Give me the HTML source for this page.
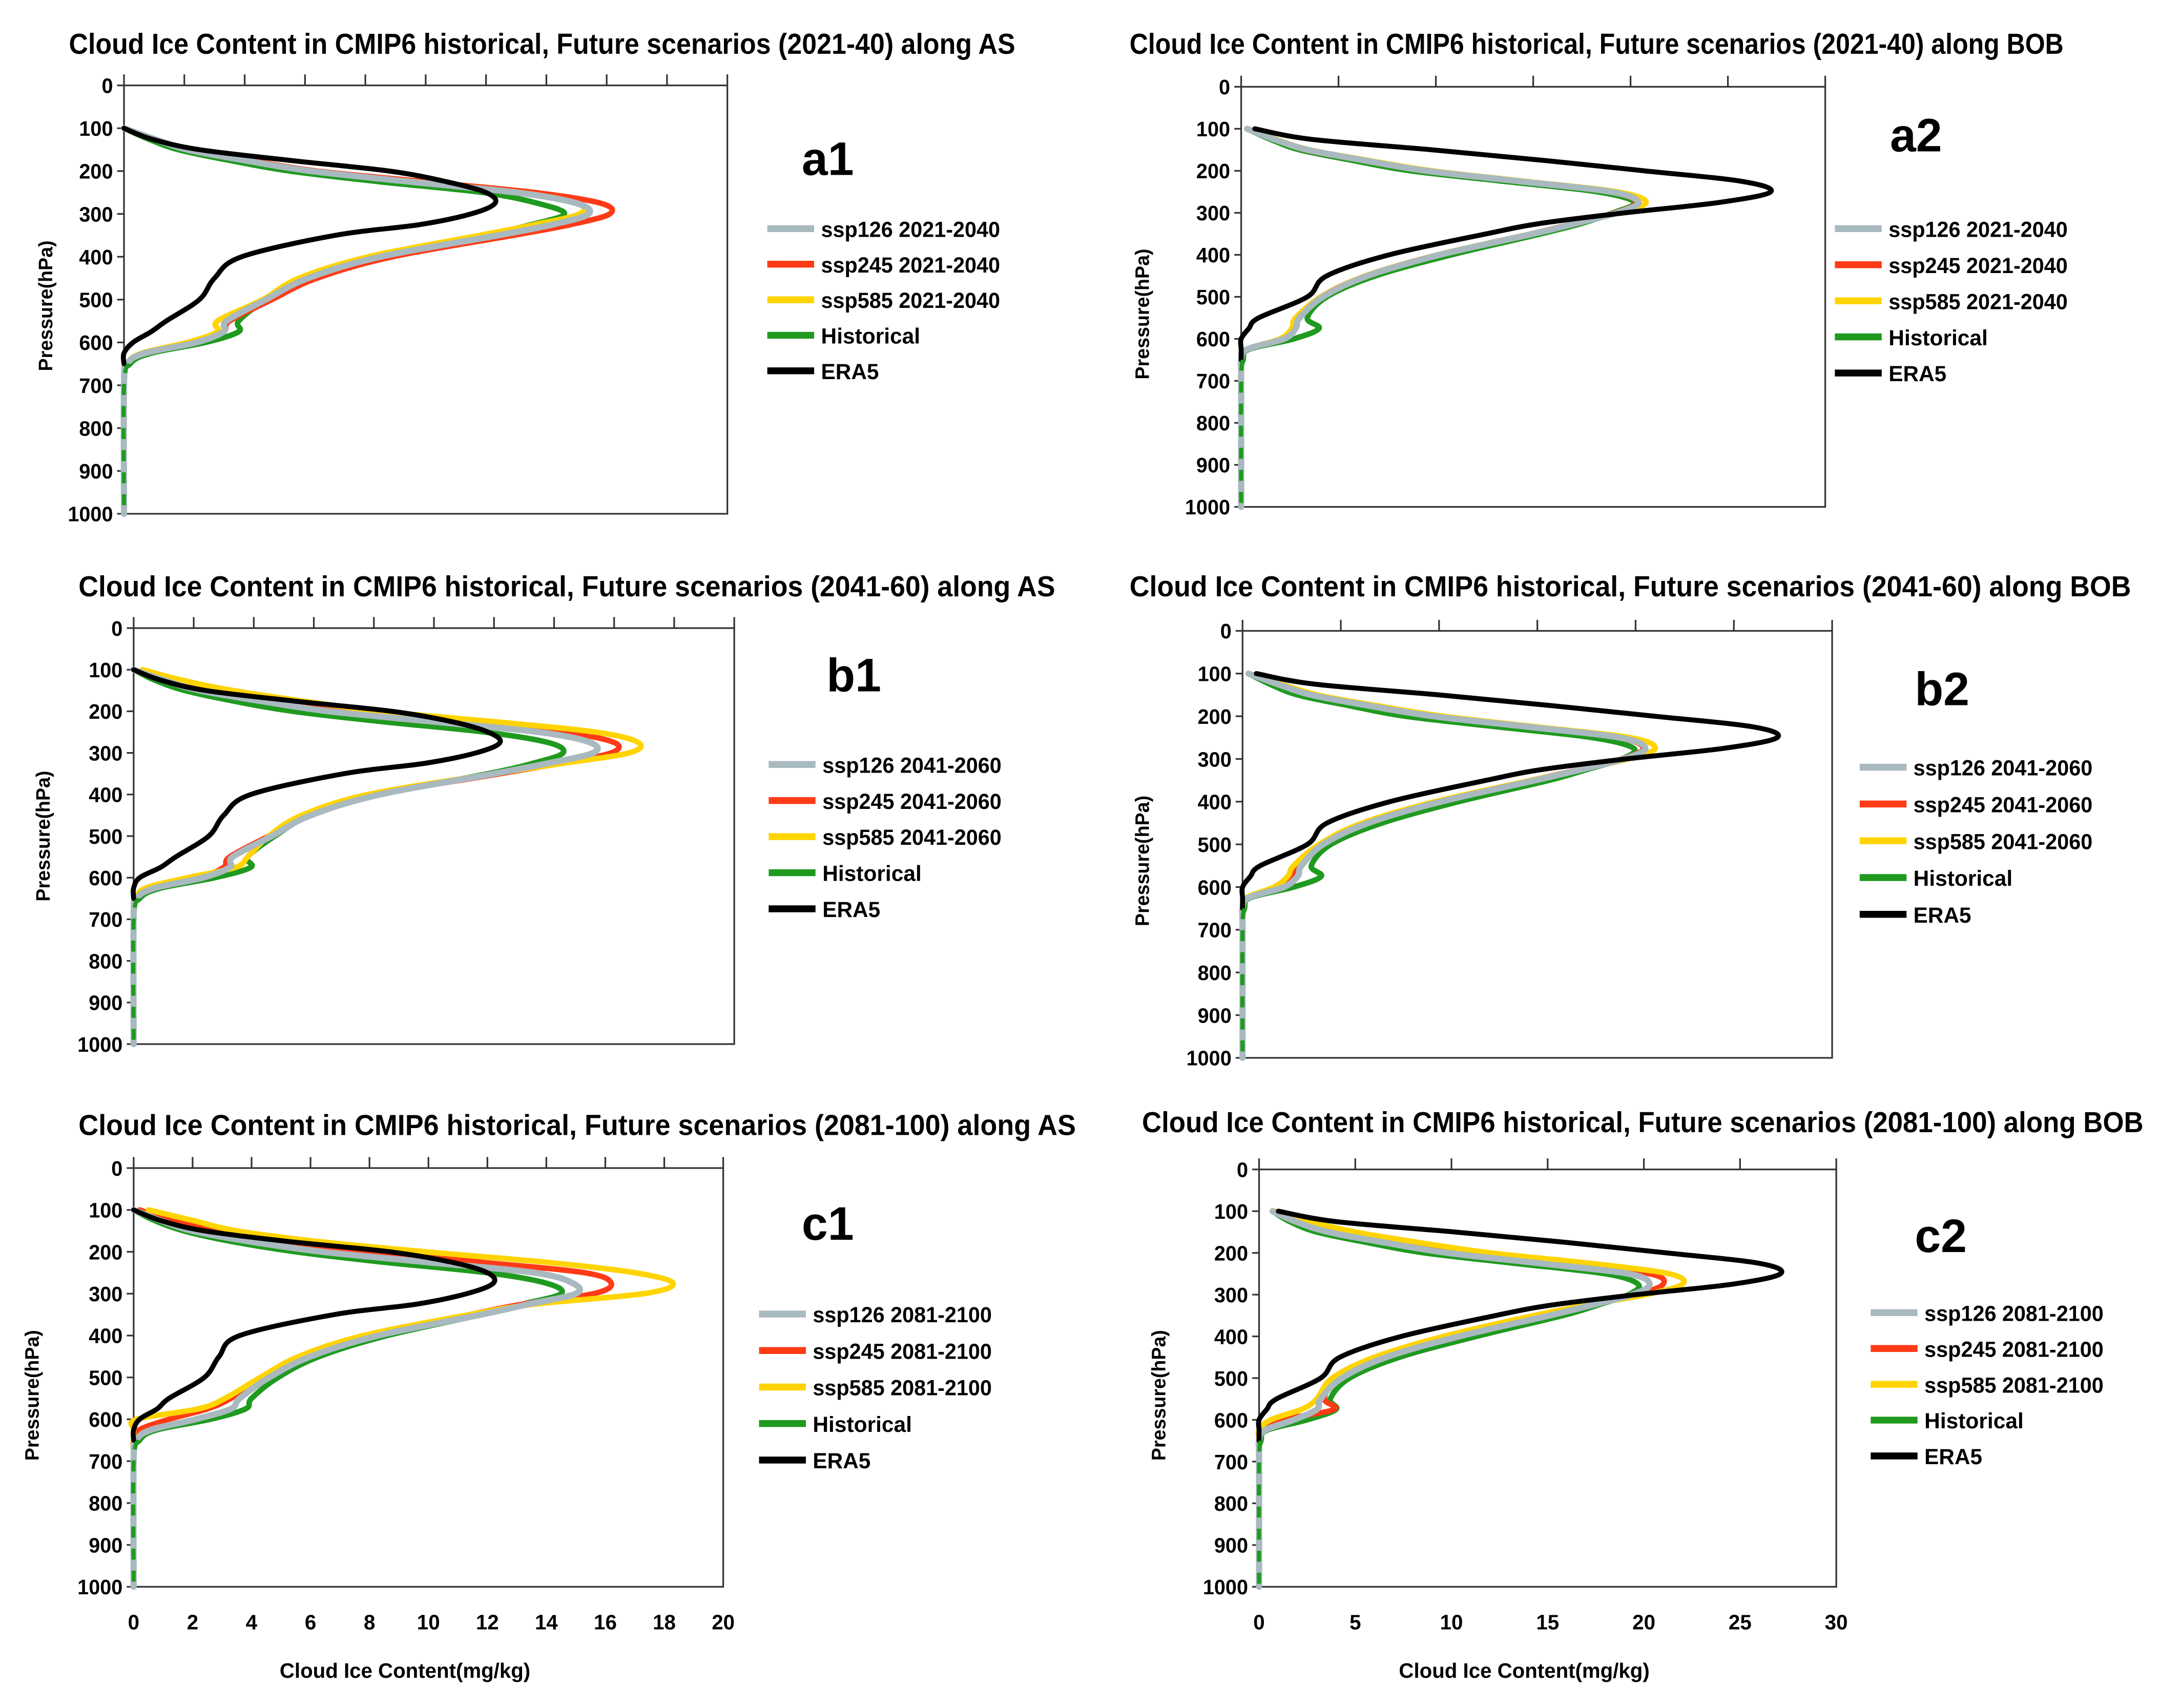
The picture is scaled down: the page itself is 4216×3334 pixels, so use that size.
<!DOCTYPE html>
<html><head><meta charset="utf-8">
<style>
html,body{margin:0;padding:0;background:#fff;}
svg{display:block;}
text{font-family:"Liberation Sans",Arial,sans-serif;font-weight:bold;fill:#000;}
</style></head>
<body>
<svg id="fig" width="4216" height="3334" viewBox="0 0 1568 1240" xmlns="http://www.w3.org/2000/svg"></svg>
<script>
// ---- data ----
const levels = [100,125,150,175,200,225,250,275,300,325,350,400,450,500,550,575,600,625,650,700,1000];
const seriesNames = ["hist","s245","s585","s126","era5"];
const yTicks = [0,100,200,300,400,500,600,700,800,900,1000];

const a1_hist = [0,0.8,1.8,3.5,5.5,8.5,11.9,13.7,14.6,13.5,11.9,8.2,5.9,4.7,3.8,3.8,2.7,0.9,0.2,0,0];
const a1_s126 = [0,1,2.1,4,6.2,9.5,13,15,15.4,14.2,12.4,8.5,6.1,4.7,3.4,3.3,2.4,0.7,0.1,0,0];
const a1_s245 = [0,1,2.2,4.2,6.4,10,13.6,15.8,16.1,14.8,12.9,8.9,6.4,4.9,3.5,3.3,2.4,0.7,0.1,0,0];
const a1_s585 = [0,1,2.1,4,6.2,9.6,13.1,15,15.1,13.6,11.8,8.1,5.8,4.6,3.1,3.1,2.1,0.6,0.1,0,0];
const a1_era5 = [0,0.9,2.5,5.5,8.8,10.7,12,12.3,11.5,9.8,7,3.9,3,2.5,1.4,0.9,0.3,0,0,0,0];

const a2_hist = [0.3,1.5,3,5.7,8.7,13.5,18.3,20.2,19.1,17.5,15.4,10.8,6.9,4.4,3.4,4,2.7,0.4,0.1,0,0];
const a2_s126 = [0.3,1.7,3.4,6.3,9.5,14.3,19,20.4,19.3,17.2,15,10.2,6.5,4.2,3,2.8,2.2,0.3,0,0,0];
const a2_s245 = [0.3,1.7,3.3,6.2,9.4,14.2,18.9,20.3,19.2,17.1,14.9,10.1,6.4,4.1,3,2.8,2.2,0.3,0,0,0];
const a2_s585 = [0.3,1.8,3.5,6.5,9.8,14.6,19.3,20.8,19.4,17.2,14.9,10.1,6.4,4.1,2.8,2.6,2.0,0.3,0,0,0];
const a2_era5 = [0.7,3.6,9.8,15.5,20.7,25.7,27.2,24.6,19.7,15.4,12.6,7.6,4.4,3.4,0.9,0.4,0,0,0,0,0];

const b1_hist = [0,0.7,1.7,3.3,5.3,8.3,11.7,13.8,14.3,13.3,11.8,8.2,5.9,4.7,3.8,3.9,2.7,0.9,0.2,0,0];
const b1_s126 = [0,1,2.2,4.2,6.5,10,13.5,15.2,15.3,13.8,12,8.2,5.9,4.6,3.3,3.2,2.3,0.7,0.1,0,0];
const b1_s245 = [0,1.1,2.4,4.5,7,10.8,14.3,16,15.9,14.2,12.2,8.2,5.9,4.5,3.2,3,2.2,0.6,0.1,0,0];
const b1_s585 = [0.3,1.6,3.3,5.6,8.2,12,15.4,16.8,16.5,14.3,12,7.8,5.6,4.5,3.8,3.4,1.8,0.4,0.1,0,0];
const b1_era5 = [0,0.9,2.4,5.3,8.6,10.6,11.8,12.2,11.4,9.7,7,3.9,3,2.5,1.4,0.9,0.2,0,0,0,0];

const b2_hist = [0.3,1.4,2.8,5.4,8.3,13,17.8,19.9,19.3,17.5,15.6,11,7.1,4.5,3.5,4,2.6,0.4,0.1,0,0];
const b2_s126 = [0.3,1.8,3.5,6.4,9.7,14.6,19.2,20.5,19.4,17.2,14.9,10.1,6.4,4.1,3,2.8,2.1,0.3,0,0,0];
const b2_s245 = [0.3,1.8,3.5,6.4,9.7,14.5,19.1,20.4,19.3,17.1,14.7,10,6.2,4,2.8,2.5,1.8,0.3,0,0,0];
const b2_s585 = [0.3,2,3.8,6.8,10.2,15,19.7,21,19.6,17.2,14.7,9.8,6.1,3.9,2.6,2.3,1.6,0.2,0,0,0];
const b2_era5 = [0.7,3.7,10,15.7,21,26,27.2,24.5,19.5,15.2,12.4,7.5,4.3,3.3,0.9,0.4,0,0,0,0,0];

const c1_hist = [0,0.7,1.7,3.3,5.5,8.5,12,14,14.5,13.2,11.8,8.6,6.3,4.9,4,3.8,2.6,0.8,0.2,0,0];
const c1_s126 = [0,0.9,2,3.9,6.4,10,13.6,14.9,15,13.4,11.8,8.3,6,4.6,3.6,3.3,2.1,0.6,0.1,0,0];
const c1_s245 = [0.2,1.3,2.9,5.2,8,11.8,15.3,16.2,15.6,13.2,11.4,7.9,5.7,4.4,3.3,2.5,1.2,0.2,0,0,0];
const c1_s585 = [0.5,2,3.5,6.2,9.9,14,17,18.3,17.3,13.6,11.4,7.8,5.6,4.3,3.1,2.2,0.1,0,0,0,0];
const c1_era5 = [0,0.9,2.4,5.2,8.7,10.8,12,12.2,11.3,9.6,6.8,3.6,2.9,2.4,1.2,0.8,0.2,0,0,0,0];

const c2_hist = [0.7,1.6,3,5.6,8.6,13.3,18,19.7,19.2,17.6,15.8,11.3,7.3,4.7,3.7,4,2.5,0.4,0.1,0,0];
const c2_s126 = [0.7,1.9,3.6,6.5,9.8,14.6,19.2,20.3,19.4,17.3,15.1,10.4,6.6,4.3,3.2,3,1.8,0.3,0,0,0];
const c2_s245 = [0.8,2.4,4.5,7.6,11.1,16,20.3,21,19.6,17,14.6,9.9,6.2,4,3.4,3.9,1.2,0.2,0,0,0];
const c2_s585 = [0.8,2.7,5,8.3,12,17.2,21.3,22,20.1,17,14.3,9.6,6,3.8,3,2.2,0.6,0,0,0,0];
const c2_era5 = [1,4,10.2,16,21.2,26,27.1,24.6,19.6,15.2,12.3,7.4,4.2,3.2,0.9,0.4,0,0,0,0,0];

const xTicksAS = [0,2,4,6,8,10,12,14,16,18,20];
const xTicksBOB = [0,5,10,15,20,25,30];

// ---- layout ----
const NS="http://www.w3.org/2000/svg";
const svg=document.getElementById('fig');
const colors={hist:"#1f9a1f",s126:"#a9b9c0",s245:"#ff3b17",s585:"#ffd400",era5:"#000"};
const widths={hist:4,s126:4.5,s245:4,s585:4,era5:3.6};
const legendLabels={s126:"ssp126",s245:"ssp245",s585:"ssp585",hist:"Historical",era5:"ERA5"};
const legendOrder=["s126","s245","s585","hist","era5"];

function el(tag,attrs,parent){const e=document.createElementNS(NS,tag);for(const k in attrs)e.setAttribute(k,attrs[k]);(parent||svg).appendChild(e);return e;}
function txt(s,attrs,parent){const t=el('text',attrs,parent);t.textContent=s;return t;}

const panels=[
 {id:"a1",data:{hist:a1_hist,s126:a1_s126,s245:a1_s245,s585:a1_s585,era5:a1_era5},xt:xTicksAS,L:90,R:528,T:62,B:373,
  title:"Cloud Ice Content in CMIP6 historical, Future scenarios (2021-40) along AS",tx:50,tw:687,ty:39,
  period:"2021-2040",lgX:557,lgY:166,lgGap:25.8,lbX:582,lbY:127,plX:33,plY:222,xlabels:false},
 {id:"a2",data:{hist:a2_hist,s126:a2_s126,s245:a2_s245,s585:a2_s585,era5:a2_era5},xt:xTicksBOB,L:901,R:1325,T:63,B:368,
  title:"Cloud Ice Content in CMIP6 historical, Future scenarios (2021-40) along BOB",tx:820,tw:678,ty:39,
  period:"2021-2040",lgX:1332,lgY:166,lgGap:26.2,lbX:1372,lbY:110,plX:829,plY:228,xlabels:false},
 {id:"b1",data:{hist:b1_hist,s126:b1_s126,s245:b1_s245,s585:b1_s585,era5:b1_era5},xt:xTicksAS,L:97,R:533,T:456,B:758,
  title:"Cloud Ice Content in CMIP6 historical, Future scenarios (2041-60) along AS",tx:57,tw:709,ty:433,
  period:"2041-2060",lgX:558,lgY:555,lgGap:26.2,lbX:600,lbY:502,plX:31,plY:607,xlabels:false},
 {id:"b2",data:{hist:b2_hist,s126:b2_s126,s245:b2_s245,s585:b2_s585,era5:b2_era5},xt:xTicksBOB,L:902,R:1330,T:458,B:768,
  title:"Cloud Ice Content in CMIP6 historical, Future scenarios (2041-60) along BOB",tx:820,tw:727,ty:433,
  period:"2041-2060",lgX:1350,lgY:557,lgGap:26.7,lbX:1390,lbY:512,plX:829,plY:625,xlabels:false},
 {id:"c1",data:{hist:c1_hist,s126:c1_s126,s245:c1_s245,s585:c1_s585,era5:c1_era5},xt:xTicksAS,L:97,R:525,T:848,B:1152,
  title:"Cloud Ice Content in CMIP6 historical, Future scenarios (2081-100) along AS",tx:57,tw:724,ty:824,
  period:"2081-2100",lgX:551,lgY:954,lgGap:26.5,lbX:582,lbY:900,plX:23,plY:1013,xlabels:true},
 {id:"c2",data:{hist:c2_hist,s126:c2_s126,s245:c2_s245,s585:c2_s585,era5:c2_era5},xt:xTicksBOB,L:914,R:1333,T:849,B:1152,
  title:"Cloud Ice Content in CMIP6 historical, Future scenarios (2081-100) along BOB",tx:829,tw:727,ty:822,
  period:"2081-2100",lgX:1358,lgY:953,lgGap:26,lbX:1390,lbY:909,plX:841,plY:1013,xlabels:true}
];

function smoothPath(pts){
  let d="M"+pts[0][0].toFixed(2)+","+pts[0][1].toFixed(2);
  for(let i=0;i<pts.length-1;i++){
    const p0=pts[i-1]||pts[i],p1=pts[i],p2=pts[i+1],p3=pts[i+2]||p2;
    const c1=[p1[0]+(p2[0]-p0[0])/6,p1[1]+(p2[1]-p0[1])/6];
    const c2=[p2[0]-(p3[0]-p1[0])/6,p2[1]-(p3[1]-p1[1])/6];
    d+=" C"+c1[0].toFixed(2)+","+c1[1].toFixed(2)+" "+c2[0].toFixed(2)+","+c2[1].toFixed(2)+" "+p2[0].toFixed(2)+","+p2[1].toFixed(2);
  }
  return d;
}

panels.forEach(p=>{
  const g=el('g',{});
  
  
  const xmax=p.xt[p.xt.length-1];
  const xs=v=>p.L+(v/xmax)*(p.R-p.L);
  const ys=v=>p.T+(v/1000)*(p.B-p.T);

  const t=txt(p.title,{x:p.tx,y:p.ty,'font-size':21,textLength:p.tw,lengthAdjust:'spacingAndGlyphs'},g);
  
  

  const box=el('rect',{x:p.L,y:p.T,width:p.R-p.L,height:p.B-p.T,fill:'none',stroke:'#333','stroke-width':1.2},g);
  
  

  p.xt.forEach(v=>{
    const tk=el('line',{x1:xs(v),x2:xs(v),y1:p.T,y2:p.T-8,stroke:'#333','stroke-width':1.2},g);
    
    
    if(p.xlabels){
      const lt=txt(String(v),{x:xs(v),y:p.B+31,'font-size':15,'text-anchor':'middle'},g);
      
      
    }
  });
  yTicks.forEach(v=>{
    const tk=el('line',{x1:p.L-5,x2:p.L,y1:ys(v),y2:ys(v),stroke:'#333','stroke-width':1.2},g);
    
    
    const lt=txt(String(v),{x:p.L-8,y:ys(v)+5.5,'font-size':15,'text-anchor':'end',textLength:String(v).length*8.2,lengthAdjust:'spacingAndGlyphs'},g);
    
    
  });
  const yl=txt("Pressure(hPa)",{x:0,y:0,'font-size':14,'text-anchor':'middle',transform:`translate(${p.plX+5},${p.plY}) rotate(-90)`},g);
  
  
  if(p.xlabels){
    const xl=txt("Cloud Ice Content(mg/kg)",{x:(p.L+p.R)/2-17,y:1218,'font-size':15,'text-anchor':'middle',textLength:182,lengthAdjust:'spacingAndGlyphs'},g);
    
    
  }

  seriesNames.forEach(s=>{
    const vals=p.data[s];
    const pts=[];
    levels.forEach((lv,i)=>{ if(s==="era5" && lv>650) return; pts.push([xs(vals[i]),ys(lv)]); });
    const path=el('path',{d:smoothPath(pts),fill:'none',stroke:colors[s],'stroke-width':widths[s],'stroke-linejoin':'round','stroke-linecap':'round'},g);
    
    
  });
  // dashed overlay for zero segment of historical
  const zp=[];
  levels.forEach((lv,i)=>{ if(lv>=650) zp.push([xs(p.data.hist[i]),ys(lv)]); });
  const dz=el('path',{d:smoothPath(zp),fill:'none',stroke:colors.hist,'stroke-width':3,'stroke-dasharray':'8 8'},g);
  
  

  legendOrder.forEach((s,i)=>{
    const y=p.lgY+i*p.lgGap;
    const lg=el('g',{},g);
    
    
    el('line',{x1:p.lgX,x2:p.lgX+34,y1:y,y2:y,stroke:colors[s],'stroke-width':5},lg);
    const label=legendLabels[s]+((s==="hist"||s==="era5")?"":" "+p.period);
    const w=(s==="hist")?72:(s==="era5")?42:130;
    txt(label,{x:p.lgX+39,y:y+6,'font-size':16,textLength:w,lengthAdjust:'spacingAndGlyphs'},lg);
  });

  const lb=txt(p.id,{x:p.lbX,y:p.lbY,'font-size':34},g);
  
  
});
</script>
</body></html>
